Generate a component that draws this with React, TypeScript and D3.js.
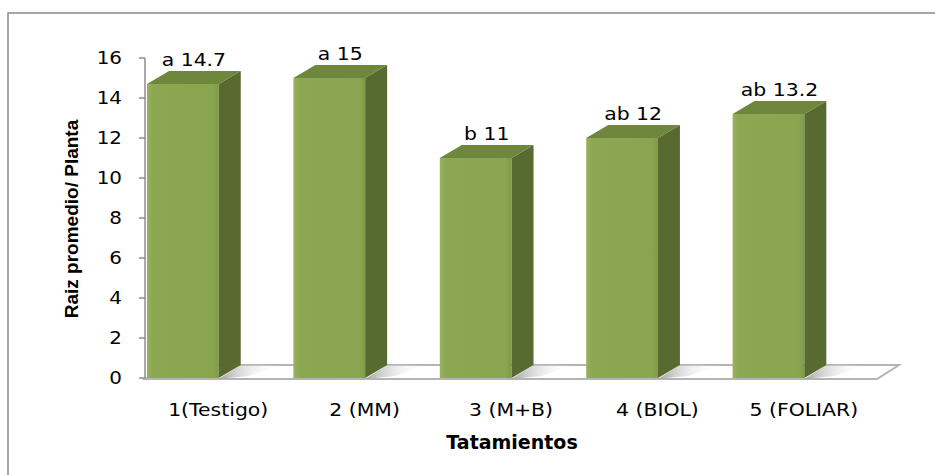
import React from "react";
import * as d3 from "d3";

const categories = ["1(Testigo)", "2 (MM)", "3 (M+B)", "4 (BIOL)", "5 (FOLIAR)"];
const values = [14.7, 15, 11, 12, 13.2];
const letters = ["a", "a", "b", "ab", "ab"];
const yTicks = [0, 2, 4, 6, 8, 10, 12, 14, 16];

const W = 935;
const H = 475;
const DX = 22;
const DY = 13;
const SX = 1.2;

export default function App() {
  const x = d3.scaleBand<string>().domain(categories).range([145, 877]).paddingInner(0).paddingOuter(0);
  const y = d3.scaleLinear().domain([0, 16]).range([378, 58]);
  const bw = x.bandwidth() * 0.49;
  const y0 = y(0);
  const floorFront = y0 + 1;
  const floorBack = floorFront - DY - 1;
  const x0 = x.range()[0];
  const x1 = x.range()[1];

  const floorPath = d3.line()([
    [x0, floorFront],
    [x1, floorFront],
    [x1 + DX, floorBack],
    [x0 + DX, floorBack],
  ]) + "Z";

  const textFont = "'DejaVu Sans', Verdana, sans-serif";

  return (
    <svg width={W} height={H} style={{ position: "absolute", left: 0, top: 0, background: "#fff" }}>
      <defs>
        <linearGradient id="front" x1="0" x2="1" y1="0" y2="0">
          <stop offset="0" stopColor="#97B35E" />
          <stop offset="0.08" stopColor="#8CA752" />
          <stop offset="0.92" stopColor="#8AA54F" />
          <stop offset="1" stopColor="#809B47" />
        </linearGradient>
        <linearGradient id="shadow" x1="0" x2="1" y1="0" y2="0">
          <stop offset="0" stopColor="#9a9a9a" stopOpacity="0.9" />
          <stop offset="0.5" stopColor="#d8d8d8" stopOpacity="0.5" />
          <stop offset="1" stopColor="#ffffff" stopOpacity="0" />
        </linearGradient>
      </defs>
      <rect x={8} y={13} width={W} height={H} fill="#fff" stroke="#8c8c8c" strokeWidth={1.5} />

      {/* floor */}
      <path d={floorPath} fill="#fff" stroke="#b4b4b4" strokeWidth={2} />
      {categories.map((c, i) => {
        const bx = (x(c) as number) + 2;
        const sx = bx + bw;
        const p = d3.line()([
          [sx, floorFront],
          [sx + DX, floorBack],
          [sx + DX + 40, floorBack],
          [sx + 30, floorFront - 3],
        ]) + "Z";
        return <path key={"sh" + i} d={p} fill="url(#shadow)" />;
      })}

      {/* y axis */}
      <line x1={145} x2={145} y1={y(16)} y2={y0} stroke="#8c8c8c" strokeWidth={1.5} />
      {yTicks.map((t) => (
        <g key={"t" + t}>
          <line x1={139} x2={145} y1={y(t)} y2={y(t)} stroke="#8c8c8c" strokeWidth={1.5} />
          <text
            transform={`translate(122,${y(t) + 6}) scale(1.17,1)`}
            textAnchor="end"
            fontFamily={textFont}
            fontSize={17}
            fill="#000"
          >
            {t}
          </text>
        </g>
      ))}

      {/* bars */}
      {categories.map((c, i) => {
        const bx = (x(c) as number) + 2;
        const top = y(values[i]);
        const side = d3.line()([
          [bx + bw, top],
          [bx + bw + DX, top - DY],
          [bx + bw + DX, y0 - DY],
          [bx + bw, y0],
        ]) + "Z";
        const topFace = d3.line()([
          [bx, top],
          [bx + DX, top - DY],
          [bx + bw + DX, top - DY],
          [bx + bw, top],
        ]) + "Z";
        return (
          <g key={"b" + i}>
            <rect x={bx} y={top} width={bw} height={y0 - top} fill="url(#front)" />
            <path d={side} fill="#586A30" />
            <path d={topFace} fill="#6E873C" />
            <text
              transform={`translate(${bx + (bw + DX) / 2},${top - DY - 5}) scale(${SX},1)`}
              textAnchor="middle"
              fontFamily={textFont}
              fontSize={17}
              fill="#000"
            >
              {letters[i] + " " + values[i]}
            </text>
          </g>
        );
      })}

      {/* x labels */}
      {categories.map((c) => (
        <text
          key={"x" + c}
          transform={`translate(${(x(c) as number) + x.bandwidth() / 2},416) scale(${SX},1)`}
          textAnchor="middle"
          fontFamily={textFont}
          fontSize={17}
          fill="#000"
        >
          {c}
        </text>
      ))}

      {/* axis titles */}
      <text
        x={512}
        y={449}
        textAnchor="middle"
        fontFamily={textFont}
        fontWeight="bold"
        fontSize={19}
        fill="#000"
      >
        Tatamientos
      </text>
      <text
        transform="translate(78,219) rotate(-90)"
        textAnchor="middle"
        fontFamily="'Liberation Sans', Arial, sans-serif"
        fontWeight="bold"
        fontSize={19}
        fill="#000"
      >
        Raiz promedio/ Planta
      </text>
    </svg>
  );
}
